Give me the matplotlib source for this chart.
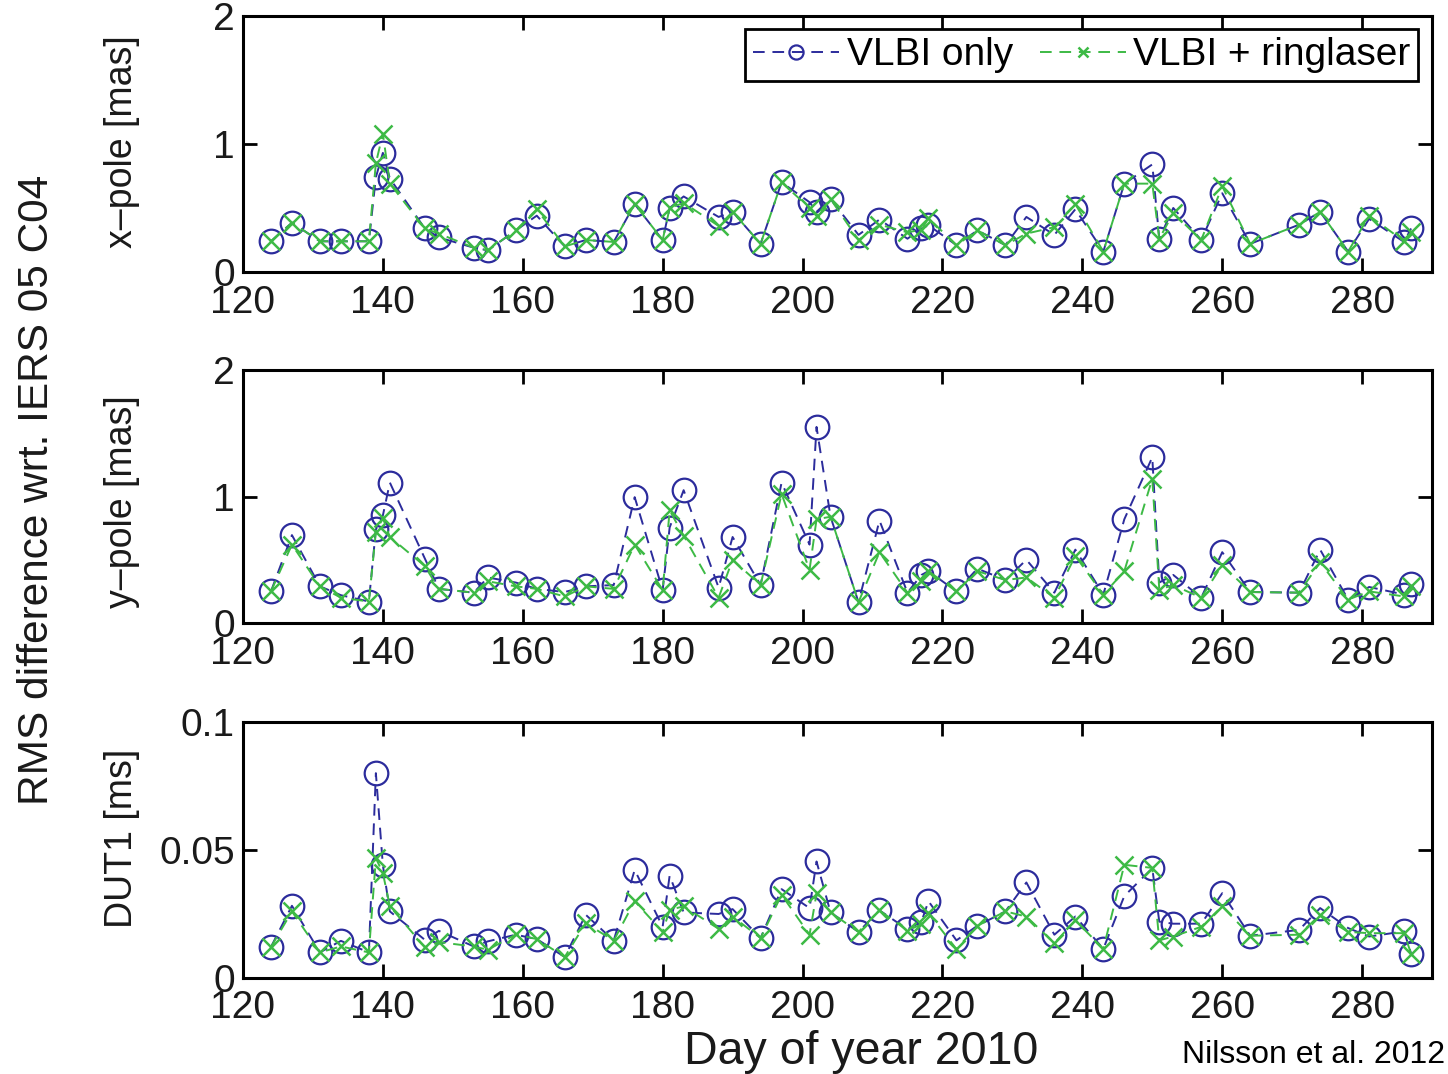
#
# RMS difference of EOP estimates wrt. IERS 05 C04, VLBI only vs. VLBI + ringlaser
# Three stacked panels: x-pole, y-pole, DUT1 vs. day of year 2010
#

import matplotlib
matplotlib.use("Agg")
import matplotlib.pyplot as plt

plt.rcParams['font.family'] = ['Liberation Sans', 'DejaVu Sans']

# Day of year for each session
days = [124, 127, 131, 134, 138, 139, 140, 141, 146, 148, 153, 155, 159, 162, 166,
        169, 173, 176, 180, 181, 183, 188, 190, 194, 197, 201, 202, 204, 208, 211,
        215, 217, 218, 222, 225, 229, 232, 236, 239, 243, 246, 250, 251, 253, 257,
        260, 264, 271, 274, 278, 281, 286, 287]

# x-pole [mas]
xpole_vlbi = [0.24, 0.385, 0.24, 0.24, 0.24, 0.74, 0.93, 0.73, 0.34, 0.27, 0.19, 0.17, 0.325, 0.44, 0.20,
              0.25, 0.235, 0.53, 0.25, 0.50, 0.59, 0.43, 0.47, 0.22, 0.70, 0.545, 0.47, 0.57, 0.29, 0.41,
              0.26, 0.34, 0.365, 0.21, 0.325, 0.21, 0.43, 0.29, 0.49, 0.16, 0.69, 0.84, 0.26, 0.50, 0.25,
              0.615, 0.22, 0.37, 0.47, 0.16, 0.415, 0.235, 0.34]
xpole_ring = [0.24, 0.385, 0.24, 0.24, 0.24, 0.85, 1.08, 0.69, 0.34, 0.30, 0.19, 0.17, 0.325, 0.49, 0.20,
              0.25, 0.235, 0.53, 0.25, 0.50, 0.54, 0.36, 0.47, 0.22, 0.70, 0.50, 0.44, 0.57, 0.25, 0.37,
              0.31, 0.33, 0.42, 0.21, 0.325, 0.21, 0.30, 0.35, 0.53, 0.16, 0.69, 0.69, 0.26, 0.46, 0.25,
              0.67, 0.22, 0.37, 0.47, 0.16, 0.44, 0.24, 0.31]

# y-pole [mas]
ypole_vlbi = [0.25, 0.695, 0.29, 0.22, 0.17, 0.74, 0.85, 1.11, 0.51, 0.27, 0.24, 0.36, 0.32, 0.27, 0.245,
              0.29, 0.30, 0.995, 0.26, 0.755, 1.05, 0.28, 0.68, 0.30, 1.11, 0.62, 1.55, 0.84, 0.165, 0.81,
              0.24, 0.38, 0.41, 0.25, 0.43, 0.34, 0.50, 0.24, 0.58, 0.225, 0.82, 1.31, 0.32, 0.38, 0.20,
              0.56, 0.245, 0.24, 0.58, 0.185, 0.285, 0.225, 0.305]
ypole_ring = [0.25, 0.62, 0.29, 0.20, 0.17, 0.72, 0.83, 0.68, 0.45, 0.27, 0.24, 0.33, 0.29, 0.27, 0.21,
              0.29, 0.27, 0.62, 0.26, 0.89, 0.69, 0.20, 0.50, 0.30, 1.02, 0.42, 0.82, 0.84, 0.165, 0.56,
              0.24, 0.33, 0.41, 0.25, 0.41, 0.34, 0.36, 0.20, 0.53, 0.225, 0.41, 1.14, 0.265, 0.30, 0.20,
              0.46, 0.245, 0.24, 0.48, 0.185, 0.25, 0.21, 0.29]

# DUT1 [ms]
dut1_vlbi = [0.0121, 0.0282, 0.010, 0.0145, 0.010, 0.080, 0.044, 0.026, 0.0149, 0.0184, 0.0123, 0.0143, 0.0169, 0.0152, 0.0082,
             0.0247, 0.0146, 0.0422, 0.020, 0.040, 0.0256, 0.025, 0.0269, 0.0156, 0.0347, 0.0273, 0.0455, 0.0256, 0.018, 0.0264,
             0.019, 0.022, 0.030, 0.0147, 0.0204, 0.026, 0.0373, 0.0169, 0.024, 0.0114, 0.032, 0.0429, 0.022, 0.0212, 0.0212,
             0.0331, 0.0165, 0.0188, 0.0273, 0.0195, 0.0162, 0.0182, 0.0095]
dut1_ring = [0.0121, 0.026, 0.010, 0.0123, 0.010, 0.0468, 0.041, 0.028, 0.012, 0.014, 0.0123, 0.011, 0.017, 0.0152, 0.0082,
             0.0214, 0.0146, 0.030, 0.018, 0.0266, 0.028, 0.0192, 0.024, 0.0156, 0.0325, 0.0169, 0.033, 0.0256, 0.018, 0.0264,
             0.0185, 0.021, 0.0253, 0.0113, 0.0204, 0.026, 0.024, 0.0136, 0.0225, 0.0114, 0.0442, 0.043, 0.0147, 0.0162, 0.020,
             0.028, 0.0165, 0.0169, 0.0247, 0.018, 0.0175, 0.0175, 0.0095]

panels = [
    ("x\u2013pole [mas]", xpole_vlbi, xpole_ring, [0, 1, 2], ["0", "1", "2"], 2),
    ("y\u2013pole [mas]", ypole_vlbi, ypole_ring, [0, 1, 2], ["0", "1", "2"], 2),
    ("DUT1 [ms]", dut1_vlbi, dut1_ring, [0, 0.05, 0.1], ["0", "0.05", "0.1"], 0.1),
]
xticks = [120, 140, 160, 180, 200, 220, 240, 260, 280]

blue = '#2c2c9c'
green = '#3dba45'
tick_col = '#1a1a1a'

fig = plt.figure(figsize=(14.48, 10.74), dpi=100)

# axes boxes in figure fraction (left, bottom, width, height)
boxes = [
    (0.1678, 0.7467, 0.8212, 0.2386),
    (0.1678, 0.4199, 0.8212, 0.2356),
    (0.1678, 0.0894, 0.8212, 0.2384),
]
# vertical position of each y-label (axes fraction)
ylab_pos = [0.51, 0.48, 0.545]

for k, (ylab, v_vlbi, v_ring, yt, ytl, ymax) in enumerate(panels):
    ax = fig.add_axes(boxes[k])
    ax.plot(days, v_vlbi, color=blue, linestyle=(0, (6, 4)), linewidth=1.4,
            marker='o', markersize=17, markerfacecolor='none', markeredgecolor=blue,
            markeredgewidth=1.6, label='VLBI only')
    ax.plot(days, v_ring, color=green, linestyle=(0, (6, 4)), linewidth=1.4,
            marker='x', markersize=13, markeredgewidth=1.8, label='VLBI + ringlaser')

    ax.set_xlim(120, 290)
    ax.set_ylim(0, ymax)
    ax.set_xticks(xticks)
    ax.set_xticklabels([str(t) for t in xticks])
    ax.set_yticks(yt)
    ax.set_yticklabels(ytl)
    ax.tick_params(direction='in', length=10, width=2, top=True, right=True,
                   labelsize=28, colors='black', labelcolor=tick_col)
    ax.tick_params(axis='x', pad=9)
    ax.tick_params(axis='y', pad=6)
    for sp in ax.spines.values():
        sp.set_linewidth(2.2)
    ax.set_ylabel(ylab, fontsize=27, va='center', color=tick_col)
    ax.yaxis.set_label_coords(-0.102, ylab_pos[k])

    if k == 0:
        leg = ax.legend(loc='upper right', ncol=2, fontsize=28, frameon=True, fancybox=False,
                        edgecolor='black', framealpha=1, handlelength=2.2, handletextpad=0.2,
                        columnspacing=0.7, borderpad=0.2, borderaxespad=0.35, markerscale=0.6)
        leg.get_frame().set_linewidth(2.0)
    if k == 2:
        ax.set_xlabel("Day of year 2010", fontsize=33.5, color=tick_col, va='top')
        ax.xaxis.set_label_coords(0.52, -0.205)

fig.text(0.0255, 0.544, "RMS difference wrt. IERS 05 C04", rotation=90,
         fontsize=30.5, ha='center', va='center', color=tick_col)
fig.text(0.998, 0.018, "Nilsson et al. 2012", fontsize=23, ha='right', va='center', color='black')

plt.savefig("out.png", dpi=100)
